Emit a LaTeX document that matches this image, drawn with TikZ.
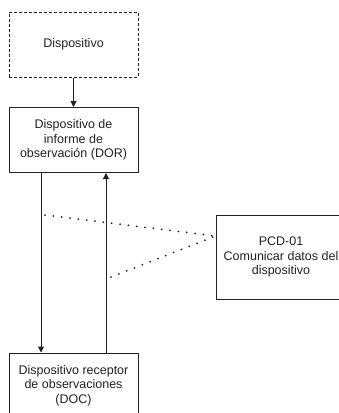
\documentclass[tikz,border=0pt]{standalone}
\usepackage{fontspec}
\setmainfont{Liberation Sans}
\usetikzlibrary{arrows.meta}
\definecolor{ink}{HTML}{222222}
\begin{document}
\begin{tikzpicture}[x=1pt,y=-1pt,
  every node/.style={font=\fontsize{12.5}{14.5}\selectfont, text=ink, align=center},
  block/.style={draw=ink, line width=1pt, minimum width=129pt, minimum height=65pt, inner sep=2pt},
  ghost/.style={block, dashed, dash pattern=on 3pt off 2pt},
  flow/.style={draw=ink, line width=1pt, -{Triangle[length=6pt,width=6pt]}},
  trace/.style={draw=ink, line width=2pt, line cap=round, dash pattern=on 0pt off 8.4pt}]
  \useasboundingbox (0,0) rectangle (338,413);

  % boxes
  \node[ghost] (dev) at (73.5,44.5) {Dispositivo};
  \node[block] (dor) at (73.5,140) {Dispositivo de\\informe de\\observación (DOR)};
  \node[block] (doc) at (73.5,385.5) {Dispositivo receptor\\de observaciones\\(DOC)};
  \node[block, minimum width=130pt, minimum height=84pt] (pcd) at (281,257)
    {PCD-01\\Comunicar datos del\\dispositivo};

  % message flow
  \draw[flow] (dev.south) -- (dor.north);
  \draw[flow] ([xshift=-32.5pt]dor.south) -- ([xshift=-32.5pt]doc.north);
  \draw[flow] ([xshift=32.5pt]doc.north) -- ([xshift=32.5pt]dor.south);

  % association with the use case
  \coordinate (join) at (pcd.west |- 0,236);
  \coordinate (a1) at (45,215);
  \coordinate (a2) at (111,277);
  \draw[trace] (a1) -- (join);
  \draw[trace] (a2) -- (join);
\end{tikzpicture}
\end{document}
